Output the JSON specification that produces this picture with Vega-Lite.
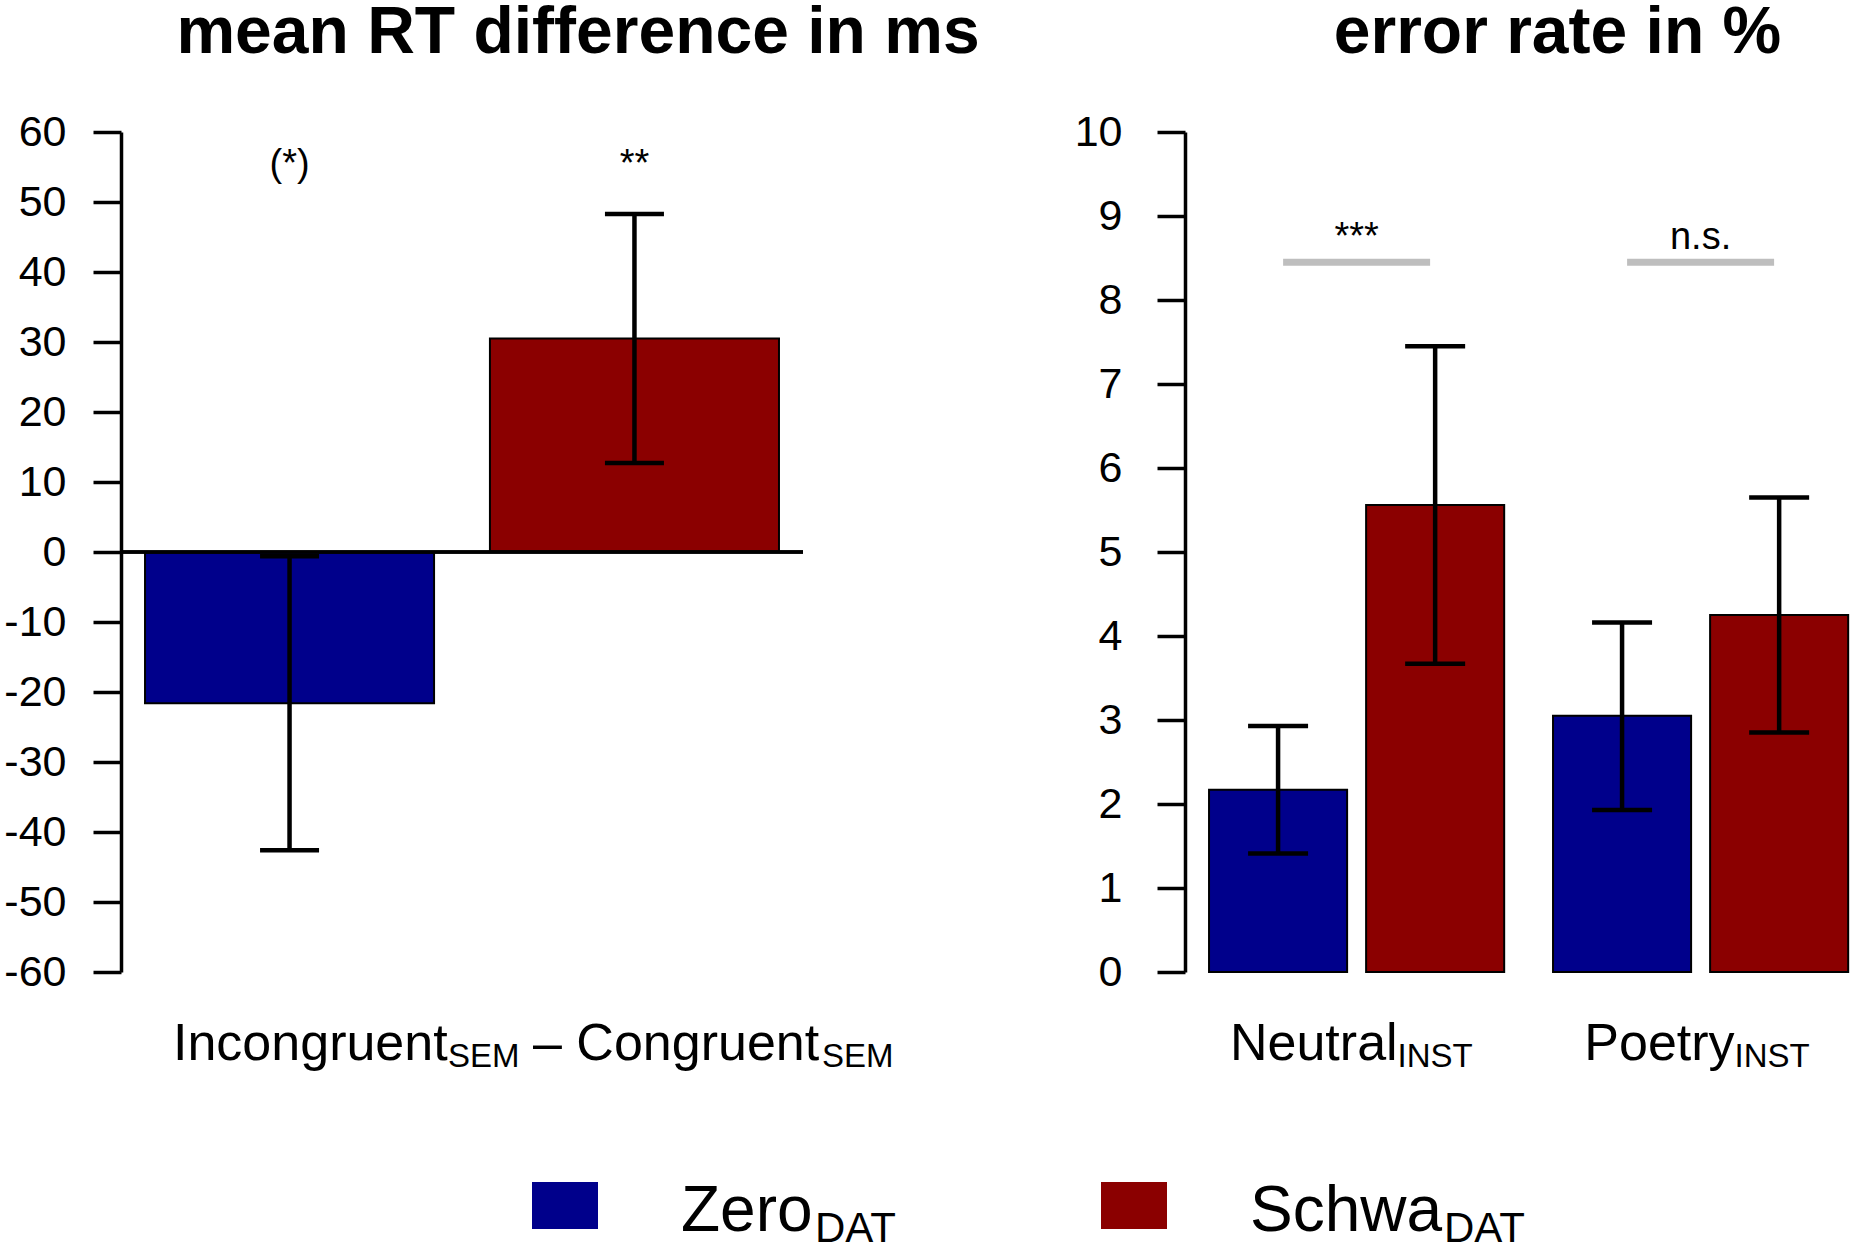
{
  "$schema": "https://vega.github.io/schema/vega-lite/v6.json",
  "padding": {"left": 3, "top": 0, "right": 0, "bottom": 0},
  "background": "white",
  "config": {"font": "Liberation Sans", "view": {"stroke": null}},
  "datasets": {
    "rt": [
      {"contrast": "Incongruent - Congruent", "cond": "Zero", "mean": -21.6, "lo": -42.6, "hi": -0.6, "sig": "(*)"},
      {"contrast": "Incongruent - Congruent", "cond": "Schwa", "mean": 30.5, "lo": 12.7, "hi": 48.3, "sig": "**"}
    ],
    "rtlabel": [
      {"contrast": "Incongruent - Congruent", "first": "Incongruent", "second": "– Congruent", "sub": "SEM"}
    ],
    "legend": [
      {"cond": "Zero", "label": "Zero", "sub": "DAT"},
      {"cond": "Schwa", "label": "Schwa", "sub": "DAT"}
    ],
    "err": [
      {"inst": "Neutral", "cond": "Zero", "mean": 2.17, "lo": 1.41, "hi": 2.93},
      {"inst": "Neutral", "cond": "Schwa", "mean": 5.56, "lo": 3.67, "hi": 7.45},
      {"inst": "Poetry", "cond": "Zero", "mean": 3.05, "lo": 1.93, "hi": 4.16},
      {"inst": "Poetry", "cond": "Schwa", "mean": 4.25, "lo": 2.85, "hi": 5.65}
    ],
    "tests": [
      {"inst": "Neutral", "label": "***", "sub": "INST"},
      {"inst": "Poetry", "label": "n.s.", "sub": "INST"}
    ]
  },
  "hconcat": [
    {
      "width": 682,
      "height": 840,
      "title": {
        "text": "mean RT difference in ms",
        "font": "Liberation Sans",
        "fontSize": 66,
        "fontWeight": "bold",
        "color": "black",
        "anchor": "middle",
        "frame": "group",
        "baseline": "alphabetic",
        "dx": 116,
        "offset": -8
      },
      "data": {"name": "rt"},
      "layer": [
        {
          "mark": {"type": "bar", "stroke": "black", "strokeWidth": 2},
          "encoding": {
            "x": {"field": "contrast", "type": "nominal", "scale": {"type": "band", "paddingInner": 0, "paddingOuter": 0.0379}, "axis": null},
            "xOffset": {"field": "cond", "type": "nominal", "scale": {"type": "band", "domain": ["Zero", "Schwa"], "paddingInner": 0.162, "paddingOuter": 0}},
            "y": {
              "field": "mean",
              "type": "quantitative",
              "title": null,
              "scale": {"domain": [-60, 60], "nice": false, "zero": false},
              "axis": {
                "values": [-60, -50, -40, -30, -20, -10, 0, 10, 20, 30, 40, 50, 60],
                "labelExpr": "datum.value < 0 ? '-' + abs(datum.value) : '' + datum.value",
                "grid": false,
                "tickSize": 28,
                "tickWidth": 3.5,
                "tickColor": "black",
                "domainColor": "black",
                "domainWidth": 3.5,
                "labelFont": "Liberation Sans",
                "labelFontSize": 43,
                "labelColor": "black",
                "labelPadding": 27,
                "labelFlush": false,
                "labelOverlap": false,
                "labelBound": false
              }
            },
            "color": {"field": "cond", "type": "nominal", "scale": {"domain": ["Zero", "Schwa"], "range": ["#00008b", "#8b0000"]}, "legend": null}
          }
        },
        {
          "mark": {"type": "rule", "color": "black", "strokeWidth": 3.5},
          "encoding": {"y": {"datum": 0, "title": null}}
        },
        {
          "mark": {"type": "rule", "color": "black", "strokeWidth": 4.5},
          "encoding": {
            "x": {"field": "contrast", "type": "nominal", "scale": {"type": "band", "paddingInner": 0, "paddingOuter": 0.0379}, "axis": null},
            "xOffset": {"field": "cond", "type": "nominal", "scale": {"type": "band", "domain": ["Zero", "Schwa"], "paddingInner": 0.162, "paddingOuter": 0}},
            "y": {"field": "lo", "type": "quantitative", "title": null},
            "y2": {"field": "hi"}
          }
        },
        {
          "mark": {"type": "tick", "color": "black", "size": 59, "thickness": 4.5, "opacity": 1},
          "encoding": {
            "x": {"field": "contrast", "type": "nominal", "scale": {"type": "band", "paddingInner": 0, "paddingOuter": 0.0379}, "axis": null},
            "xOffset": {"field": "cond", "type": "nominal", "scale": {"type": "band", "domain": ["Zero", "Schwa"], "paddingInner": 0.162, "paddingOuter": 0}},
            "y": {"field": "lo", "type": "quantitative", "title": null}
          }
        },
        {
          "mark": {"type": "tick", "color": "black", "size": 59, "thickness": 4.5, "opacity": 1},
          "encoding": {
            "x": {"field": "contrast", "type": "nominal", "scale": {"type": "band", "paddingInner": 0, "paddingOuter": 0.0379}, "axis": null},
            "xOffset": {"field": "cond", "type": "nominal", "scale": {"type": "band", "domain": ["Zero", "Schwa"], "paddingInner": 0.162, "paddingOuter": 0}},
            "y": {"field": "hi", "type": "quantitative", "title": null}
          }
        },
        {
          "mark": {"type": "text", "fontSize": 38, "color": "black", "baseline": "alphabetic", "align": "center"},
          "encoding": {
            "x": {"field": "contrast", "type": "nominal", "scale": {"type": "band", "paddingInner": 0, "paddingOuter": 0.0379}, "axis": null},
            "xOffset": {"field": "cond", "type": "nominal", "scale": {"type": "band", "domain": ["Zero", "Schwa"], "paddingInner": 0.162, "paddingOuter": 0}},
            "y": {"datum": 53.7, "title": null},
            "text": {"field": "sig"}
          }
        },
        {
          "data": {"name": "rtlabel"},
          "mark": {"type": "text", "fontSize": 52, "color": "black", "baseline": "alphabetic", "align": "left", "dx": -289},
          "encoding": {
            "x": {"field": "contrast", "type": "nominal", "scale": {"type": "band", "paddingInner": 0, "paddingOuter": 0.0379}, "axis": null},
            "y": {"datum": -72.57, "title": null},
            "text": {"field": "first"}
          }
        },
        {
          "data": {"name": "rtlabel"},
          "mark": {"type": "text", "fontSize": 33, "color": "black", "baseline": "alphabetic", "align": "left", "dx": -14, "dy": 7},
          "encoding": {
            "x": {"field": "contrast", "type": "nominal", "scale": {"type": "band", "paddingInner": 0, "paddingOuter": 0.0379}, "axis": null},
            "y": {"datum": -72.57, "title": null},
            "text": {"field": "sub"}
          }
        },
        {
          "data": {"name": "rtlabel"},
          "mark": {"type": "text", "fontSize": 52, "color": "black", "baseline": "alphabetic", "align": "left", "dx": 71},
          "encoding": {
            "x": {"field": "contrast", "type": "nominal", "scale": {"type": "band", "paddingInner": 0, "paddingOuter": 0.0379}, "axis": null},
            "y": {"datum": -72.57, "title": null},
            "text": {"field": "second"}
          }
        },
        {
          "data": {"name": "rtlabel"},
          "mark": {"type": "text", "fontSize": 33, "color": "black", "baseline": "alphabetic", "align": "left", "dx": 360, "dy": 7},
          "encoding": {
            "x": {"field": "contrast", "type": "nominal", "scale": {"type": "band", "paddingInner": 0, "paddingOuter": 0.0379}, "axis": null},
            "y": {"datum": -72.57, "title": null},
            "text": {"field": "sub"}
          }
        },
        {
          "data": {"name": "legend"},
          "mark": {"type": "point", "filled": true, "opacity": 1, "strokeWidth": 0, "shape": "M-1,-0.712H1V0.712H-1Z", "size": 4356},
          "encoding": {
            "x": {"field": "cond", "type": "nominal", "scale": {"type": "point", "domain": ["Zero", "Schwa"], "range": [444, 1013], "padding": 0}, "axis": null},
            "y": {"datum": -93.36, "title": null},
            "color": {"field": "cond", "type": "nominal", "scale": {"domain": ["Zero", "Schwa"], "range": ["#00008b", "#8b0000"]}, "legend": null}
          }
        },
        {
          "data": {"name": "legend"},
          "mark": {"type": "text", "fontSize": 64, "color": "black", "baseline": "alphabetic", "align": "left", "dx": 116},
          "encoding": {
            "x": {"field": "cond", "type": "nominal", "scale": {"type": "point", "domain": ["Zero", "Schwa"], "range": [444, 1013], "padding": 0}, "axis": null},
            "y": {"datum": -97.0, "title": null},
            "text": {"field": "label"}
          }
        },
        {
          "data": {"name": "legend"},
          "transform": [{"filter": "datum.cond == 'Zero'"}],
          "mark": {"type": "text", "fontSize": 42, "color": "black", "baseline": "alphabetic", "align": "left", "dx": 250, "dy": 11},
          "encoding": {
            "x": {"field": "cond", "type": "nominal", "scale": {"type": "point", "domain": ["Zero", "Schwa"], "range": [444, 1013], "padding": 0}, "axis": null},
            "y": {"datum": -97.0, "title": null},
            "text": {"field": "sub"}
          }
        },
        {
          "data": {"name": "legend"},
          "transform": [{"filter": "datum.cond == 'Schwa'"}],
          "mark": {"type": "text", "fontSize": 42, "color": "black", "baseline": "alphabetic", "align": "left", "dx": 310, "dy": 11},
          "encoding": {
            "x": {"field": "cond", "type": "nominal", "scale": {"type": "point", "domain": ["Zero", "Schwa"], "range": [444, 1013], "padding": 0}, "axis": null},
            "y": {"datum": -97.0, "title": null},
            "text": {"field": "sub"}
          }
        }
      ],
      "resolve": {"scale": {"x": "independent", "xOffset": "independent"}}
    },
    {
      "width": 669,
      "height": 840,
      "title": {
        "text": "error rate in %",
        "font": "Liberation Sans",
        "fontSize": 66,
        "fontWeight": "bold",
        "color": "black",
        "anchor": "middle",
        "frame": "group",
        "baseline": "alphabetic",
        "dx": 38,
        "offset": -8
      },
      "data": {"name": "err"},
      "encoding": {
        "x": {"field": "inst", "type": "nominal", "scale": {"type": "band", "domain": ["Neutral", "Poetry"], "paddingInner": 0.142, "paddingOuter": 0.0434, "align": 0.805}, "axis": null}
      },
      "layer": [
        {
          "mark": {"type": "bar", "stroke": "black", "strokeWidth": 2},
          "encoding": {
            "xOffset": {"field": "cond", "type": "nominal", "scale": {"type": "band", "domain": ["Zero", "Schwa"], "paddingInner": 0.121, "paddingOuter": 0}},
            "y": {
              "field": "mean",
              "type": "quantitative",
              "title": null,
              "scale": {"domain": [0, 10], "nice": false, "zero": false},
              "axis": {
                "values": [0, 1, 2, 3, 4, 5, 6, 7, 8, 9, 10],
                "labelExpr": "'' + datum.value",
                "grid": false,
                "tickSize": 28,
                "tickWidth": 3.5,
                "tickColor": "black",
                "domainColor": "black",
                "domainWidth": 3.5,
                "labelFont": "Liberation Sans",
                "labelFontSize": 43,
                "labelColor": "black",
                "labelPadding": 35,
                "labelFlush": false,
                "labelOverlap": false,
                "labelBound": false
              }
            },
            "color": {"field": "cond", "type": "nominal", "scale": {"domain": ["Zero", "Schwa"], "range": ["#00008b", "#8b0000"]}, "legend": null}
          }
        },
        {
          "mark": {"type": "rule", "color": "black", "strokeWidth": 4.5},
          "encoding": {
            "xOffset": {"field": "cond", "type": "nominal", "scale": {"type": "band", "domain": ["Zero", "Schwa"], "paddingInner": 0.121, "paddingOuter": 0}},
            "y": {"field": "lo", "type": "quantitative", "title": null},
            "y2": {"field": "hi"}
          }
        },
        {
          "mark": {"type": "tick", "color": "black", "size": 60, "thickness": 4.5, "opacity": 1},
          "encoding": {
            "xOffset": {"field": "cond", "type": "nominal", "scale": {"type": "band", "domain": ["Zero", "Schwa"], "paddingInner": 0.121, "paddingOuter": 0}},
            "y": {"field": "lo", "type": "quantitative", "title": null}
          }
        },
        {
          "mark": {"type": "tick", "color": "black", "size": 60, "thickness": 4.5, "opacity": 1},
          "encoding": {
            "xOffset": {"field": "cond", "type": "nominal", "scale": {"type": "band", "domain": ["Zero", "Schwa"], "paddingInner": 0.121, "paddingOuter": 0}},
            "y": {"field": "hi", "type": "quantitative", "title": null}
          }
        },
        {
          "data": {"name": "tests"},
          "mark": {"type": "tick", "color": "#bebebe", "size": 147, "thickness": 7, "opacity": 1},
          "encoding": {"y": {"datum": 8.45, "title": null}}
        },
        {
          "data": {"name": "tests"},
          "mark": {"type": "text", "fontSize": 38, "color": "black", "baseline": "alphabetic", "align": "center"},
          "encoding": {
            "y": {"datum": 8.61, "title": null},
            "text": {"field": "label"}
          }
        },
        {
          "data": {"name": "tests"},
          "transform": [{"filter": "datum.inst == 'Neutral'"}],
          "mark": {"type": "text", "fontSize": 52, "color": "black", "baseline": "alphabetic", "align": "right", "dx": 41},
          "encoding": {
            "y": {"datum": -1.048, "title": null},
            "text": {"field": "inst"}
          }
        },
        {
          "data": {"name": "tests"},
          "transform": [{"filter": "datum.inst == 'Neutral'"}],
          "mark": {"type": "text", "fontSize": 33, "color": "black", "baseline": "alphabetic", "align": "left", "dx": 41, "dy": 7},
          "encoding": {
            "y": {"datum": -1.048, "title": null},
            "text": {"field": "sub"}
          }
        },
        {
          "data": {"name": "tests"},
          "transform": [{"filter": "datum.inst == 'Poetry'"}],
          "mark": {"type": "text", "fontSize": 52, "color": "black", "baseline": "alphabetic", "align": "right", "dx": 34},
          "encoding": {
            "y": {"datum": -1.048, "title": null},
            "text": {"field": "inst"}
          }
        },
        {
          "data": {"name": "tests"},
          "transform": [{"filter": "datum.inst == 'Poetry'"}],
          "mark": {"type": "text", "fontSize": 33, "color": "black", "baseline": "alphabetic", "align": "left", "dx": 34, "dy": 7},
          "encoding": {
            "y": {"datum": -1.048, "title": null},
            "text": {"field": "sub"}
          }
        }
      ]
    }
  ],
  "spacing": 382,
  "bounds": "flush"
}
